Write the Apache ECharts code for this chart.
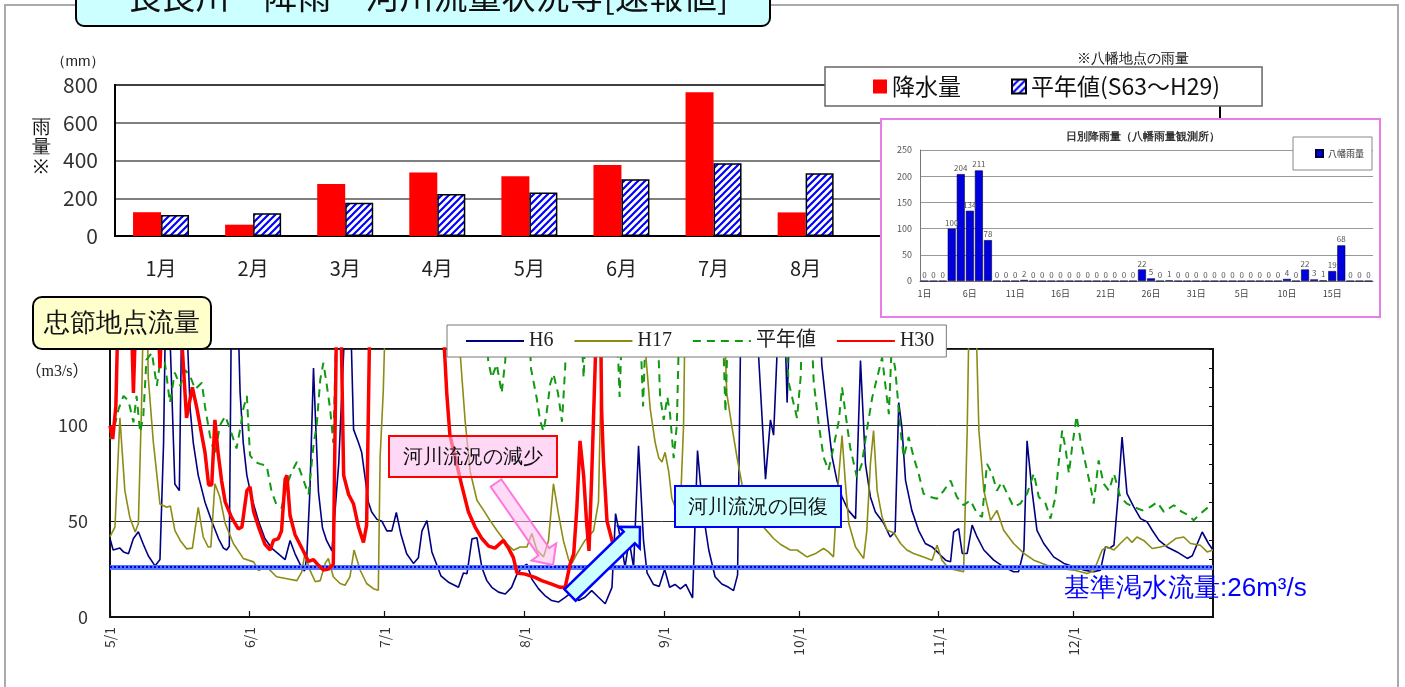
<!DOCTYPE html>
<html><head><meta charset="utf-8">
<script src="https://cdn.jsdelivr.net/npm/echarts@6/dist/echarts.min.js"></script>
<style>html,body{margin:0;padding:0;background:#fff;}#c{width:1405px;height:687px;}</style>
</head><body><div id="c"></div>
<script>
// ---------- top chart: monthly rainfall (mm) ----------
const months = ['1月','2月','3月','4月','5月','6月','7月','8月','9月','10月','11月','12月'];
const rainH30 = [126, 60, 276, 337, 316, 376, 761, 125, null, null, null, null];
const rainNormal = [111, 121, 176, 223, 230, 301, 385, 332, 280, 150, 100, 110];
const rainTicks = [0, 200, 400, 600, 800];

// ---------- inset: daily rainfall at 八幡 ----------
const insetDays = ['1日','2日','3日','4日','5日','6日','7日','8日','9日','10日','11日','12日','13日','14日','15日','16日','17日','18日','19日','20日','21日','22日','23日','24日','25日','26日','27日','28日','29日','30日','31日',
  '1日','2日','3日','4日','5日','6日','7日','8日','9日','10日','11日','12日','13日','14日','15日','16日','17日','18日','19日'];
const insetRain = [0,0,0,100,204,134,211,78,0,0,0,2,0,0,0,0,0,0,0,0,0,0,0,0,22,5,0,1,0,0,0,
  0,0,0,0,0,0,0,0,0,4,0,22,3,1,19,68,0,0,0];

// ---------- bottom chart: flow at 忠節 (m3/s), x = days since 5/1 ----------
const monthStartDays = [0, 31, 61, 92, 123, 153, 184, 214];
const monthStartLabels = ['5/1','6/1','7/1','8/1','9/1','10/1','11/1','12/1'];
const flowTicks = [0, 50, 100];
const baseFlow = 26;

const flowH6 = [[0,41],[0.7,35],[2.2,36],[3,34],[4.1,33],[5.2,41],[6.3,44.5],[7.4,38],[8.5,32],[10,26.7],[11.1,30],[11.9,91],[12.4,170],[13,170],[14.4,69.5],[15.4,66],[16,170],[16.8,170],[17.8,108.6],[18.5,91],[19.6,74],[21.1,60],[22.6,50],[24.1,41],[25.2,36],[25.9,35],[26.5,37],[27,170],[28.3,170],[28.9,117],[29.6,91],[30.4,74],[31.5,62],[33,50],[34.4,41],[35.9,36],[37.4,33],[38.9,30],[40,40],[41.1,33],[42.2,27.6],[43.2,24],[43.7,31],[44.4,65.5],[45.2,130],[45.7,100],[46.3,65.5],[47.2,46.5],[48.1,40],[49.3,34.5],[50.8,80],[52.5,170],[53.3,170],[54.1,98],[55.2,91],[55.9,86],[57.4,60],[58.1,55],[59.3,51],[60.4,50],[61.5,45],[62.6,45],[63.6,54.6],[64.6,43.4],[65.9,33],[67.4,28],[68.5,31],[69.3,45],[70.4,50.3],[71.5,34],[73.5,21.5],[75.3,18],[77.4,15.5],[78.5,23],[79.3,22.6],[80.4,40.8],[81.5,41.4],[82.6,25.9],[83.7,19],[84.8,15.5],[86.3,13],[87.8,12],[89.2,15.5],[90.4,22.4],[91.5,25.9],[92.6,27.6],[93.7,19.8],[95.2,14.7],[96.6,11.2],[98.1,8.6],[99.6,7.8],[101.1,10.3],[102.6,13],[104.1,8.6],[105.5,10.3],[107,13.8],[108.5,10.3],[110,6.9],[111.5,15.5],[112.3,54],[113.3,42],[114.4,26],[115.3,40],[116.3,26],[117.4,89.5],[118.5,40],[119.3,23],[120.7,17],[122,16],[123.2,25],[124.3,15.5],[125.5,17],[126.7,14.7],[127.9,17],[129.4,10],[130.5,87],[131.7,55],[133,35],[134.4,21],[135.9,17.2],[137.4,15.5],[138.5,13.8],[139.4,22],[140.2,170],[143.6,170],[144.1,135],[145.6,72],[146.7,103],[147.4,95],[148.1,134],[148.7,170],[149.7,170],[150.4,112],[151.2,170],[157.5,170],[158.1,132],[159.3,106],[160.4,83.5],[161.5,71],[162.6,62.7],[164,55.7],[165.6,51.4],[166.7,134],[167.8,80],[168.9,62.7],[170,54.8],[171.9,48.8],[173.3,41.8],[174.4,44.5],[175.2,112],[175.9,99],[176.7,71.4],[178.1,55.7],[179.6,45.3],[181.1,38.4],[182.6,36.6],[184.1,33.2],[185.6,29.7],[186.7,28.8],[187.4,44.4],[188.5,46.2],[189.3,33.2],[190.4,33.2],[191.5,48],[192.6,41.8],[194.1,35],[196.3,29.7],[198.5,26.2],[200.7,23.6],[201.8,23.6],[203,35],[203.7,92],[204.8,66],[205.9,45.3],[207.4,38.4],[209.6,31.4],[211.9,28],[214.1,26.2],[216.3,24.5],[218.5,23.6],[220,24.5],[221.1,36.6],[222,36],[223,37.5],[223.9,62.7],[224.8,94],[225.9,64.4],[227.4,57.5],[228.9,51.4],[230.4,49.6],[231.5,45.3],[233,40],[234.8,36.6],[237,34],[239.3,30.6],[240.4,32],[242.6,44.4],[244,38.4],[245,35]];

const flowH17 = [[0,42],[1.1,47],[2.2,104],[3.3,66],[4.4,52],[5.6,44.4],[6.3,48.8],[7,110],[7.5,170],[8.2,170],[8.5,125],[9.6,92],[11.1,59],[12.6,57.3],[13.4,58],[14.4,45.3],[15.6,40],[17,35.6],[18.3,36],[19.6,57.3],[20.7,41.8],[21.8,36.6],[22.4,36.6],[23.3,69.6],[24.4,62.7],[25.6,48.8],[27.4,38.4],[29.6,30.6],[31.9,28.8],[33,24.3],[34.8,26.2],[37,21],[39.3,20],[41.5,19],[42.6,23.6],[43.3,33.2],[44.4,24.5],[45.6,18.4],[46.7,19],[47.8,28],[48.5,30.6],[49.6,21],[51.1,17.5],[52.2,16.6],[53.3,21],[54.2,35],[55.6,24.3],[57,17.5],[58.5,14.8],[59.6,14],[60,83.5],[60.7,118],[61.3,170],[77.2,170],[77.8,137],[78.9,102],[80,76],[81.5,61],[83,55.7],[84.4,50.5],[85.9,45.3],[88.1,38.4],[89.6,34.9],[91.1,36.6],[92.6,36.6],[93.7,43.6],[94.8,35],[96.3,31.4],[97.4,40],[98.5,69.6],[99.6,54],[100.7,40],[101.9,29.7],[102.6,28],[103.7,33],[105.5,40],[107.4,45],[108.5,60],[109.5,170],[118.5,170],[118.9,140],[120,108.6],[121.1,91],[121.9,83],[122.6,81],[123.3,86],[124.1,76],[124.8,62],[125.9,55],[126.6,52],[127.4,100],[127.8,170],[136.2,170],[137,117],[138.1,100],[139.3,83],[140.4,69],[141.5,60],[143,53],[144.4,49],[145.9,45],[147.4,41],[148.9,38],[151.1,35],[152.6,35],[154.8,31.4],[156.6,33],[158.5,35.8],[159.6,34],[160.7,31.4],[161.5,62.7],[162.6,94.8],[163.3,71.4],[164.1,48.8],[165.6,36.6],[167.4,30.6],[168.1,45],[168.9,80],[169.6,97.4],[170.4,66],[171.5,52.2],[172.6,45.3],[174.1,44],[175.6,38.4],[177,35],[178.5,33.2],[180.7,31.4],[182.6,29.7],[183.7,37.5],[184.8,29.7],[186.3,25.4],[188.1,24.5],[189.6,23.6],[190.4,97],[190.9,170],[192.2,170],[193,97.4],[194.1,66],[195.6,50.5],[197,55.7],[198.5,45.3],[200.7,38.4],[203,33.2],[205.2,29.7],[208.1,27],[211.1,25.4],[214.1,24.5],[217,22.7],[218.5,24],[220.4,35],[221.5,36.6],[223,35],[224.4,38.4],[225.9,41.8],[227,39],[228.1,41.8],[229.6,40],[231.5,35.8],[233.3,36.6],[234.8,37.5],[236.7,41],[238.5,41.8],[240,38.4],[242.2,37.5],[243.7,34],[245,35]];

const flowNormal = [[0,93],[0.7,96.5],[1.9,108.6],[3,115.5],[4.1,113],[5.2,101.7],[5.9,115.5],[6.7,96.5],[7.4,105],[8.1,134.5],[9.3,138],[10.4,120.7],[11.1,132.8],[12.2,132.8],[13.3,112],[14.4,127.6],[15.6,120.7],[16.7,129],[17.8,125.9],[18.9,119],[20.4,122.4],[21.1,110],[22.2,94.8],[23.3,84.5],[24.4,100],[25.6,105],[26.7,98],[28.1,88],[28.9,98],[29.6,108.6],[30.4,115.5],[31.1,84.5],[32.2,81],[33.3,80],[34.8,79],[35.9,65.5],[37,58.6],[38.1,57],[39.3,69],[40.4,76],[41.5,81],[42.6,74],[44.1,64],[45.2,89.7],[45.9,100],[46.7,124],[47.4,132.8],[48.1,122],[48.9,108.6],[49.6,91],[50.5,170],[83.3,170],[84,134],[84.8,125],[85.9,132],[87,117],[87.8,134],[88.3,170],[92.8,170],[93.5,130],[94.8,114],[95.6,102],[96.3,97],[97,107],[97.8,122],[98.5,127],[99.5,117],[100.4,102],[101.1,130],[101.6,170],[104.3,170],[105.2,125],[106,170],[112.3,170],[113.2,115],[114,170],[117.5,170],[118.4,110],[119.3,170],[121.3,170],[122.2,115],[123,103],[123.8,115],[124.4,106],[125.2,83],[125.9,100],[126.6,170],[135.9,170],[136.7,107],[137.5,170],[149.9,170],[150.7,123],[152.6,104],[153.4,125],[154,170],[155.5,170],[156.3,123],[157.4,101],[158.5,83.5],[159.6,76.6],[160.7,88.7],[161.9,102.6],[162.6,120],[163.5,104],[164.4,88.7],[165.9,73],[167,80],[168.1,97.4],[169.3,114.6],[170.4,125],[171.5,135.6],[172.2,121.7],[173,106],[173.6,140],[174.4,130],[175.6,97.4],[176.3,83.5],[177.4,94],[178.5,83.5],[179.6,75],[180.7,64.4],[182.2,62.7],[183.7,61.8],[185.2,66],[186.7,71.3],[188.1,62.7],[189.6,58.4],[191.1,61],[192.6,54],[193.7,52.3],[194.8,80],[195.9,75],[197,66],[198.1,70.5],[199.3,64.4],[200.7,57.5],[202.2,59.2],[203.7,64.4],[205.2,75],[206.3,62.7],[207.8,59.2],[208.9,51.4],[210,62.7],[210.7,80],[211.5,97.4],[212.2,88.7],[213,75],[213.7,88.7],[214.7,105],[215.6,92],[216.7,80],[217.8,68],[218.5,59.2],[219.6,81.8],[220.7,69.6],[221.9,66],[223,75],[224.4,62.7],[225.9,59.2],[227.4,57.5],[229.3,55.7],[231.1,57.5],[232.6,60],[234.1,54.9],[236.3,58.4],[238.1,54.9],[239.6,53.2],[240.7,50.5],[242.2,54],[244,57.5],[245,56.6]];

const flowH30 = [[0,100],[0.6,93],[1.3,110],[1.9,170],[4.6,170],[5.2,117],[5.9,170],[10.5,170],[11.1,130],[11.7,170],[15.3,170],[17,104],[18.3,120],[19.3,109],[21.1,86],[21.9,69],[22.6,69],[23.3,103],[24,86],[24.8,71],[25.6,60],[27,52],[28.5,46],[29.3,47],[30.4,66],[31.1,68],[31.9,55],[33,47],[34.4,38],[35.6,35],[36.3,40],[37.4,41],[38.1,45],[38.9,72],[39.3,74],[40,53],[41.1,43],[42.6,36],[44.1,29],[45.2,30],[46.3,27],[47.4,24.5],[48.5,25],[49.6,27.6],[50.4,170],[51.2,170],[51.9,74],[53,64],[54.1,59],[55.2,47],[56.3,39],[57,48],[57.8,170],[73.6,170],[74.8,117],[75.5,95],[76.7,83],[78.1,69],[79.6,55],[81.1,47],[82.6,41],[84.1,37],[85.5,36],[87.4,40],[88.5,36],[89.6,31],[90.4,23],[92.2,22.4],[94.4,20.7],[95.9,19],[98.1,17.2],[100,15.5],[101.1,15.5],[102.2,27.6],[103,33],[103.7,57],[104.4,92],[105.2,74],[105.9,48],[106.4,34.5],[107,74],[107.8,134],[108.1,170],[108.9,170],[109.2,108],[109.6,82],[110.4,50],[111.5,40],[112.2,35]];

const SANS = '"Noto Sans CJK JP", "DejaVu Sans", sans-serif';
const SERIF = '"Liberation Serif", "Noto Sans CJK JP", serif';

function hatchPattern() {
  const c = document.createElement('canvas');
  c.width = 7; c.height = 7;
  const g = c.getContext('2d');
  g.fillStyle = '#ffffff'; g.fillRect(0, 0, 7, 7);
  g.strokeStyle = '#0000ff'; g.lineWidth = 2.2;
  g.beginPath();
  g.moveTo(-1, 8); g.lineTo(8, -1);
  g.moveTo(-1, 1); g.lineTo(1, -1);
  g.moveTo(6, 8); g.lineTo(8, 6);
  g.stroke();
  return { image: c, repeat: 'repeat' };
}

function arrowPts(x1, y1, x2, y2, shaft, head, headLen) {
  const dx = x2 - x1, dy = y2 - y1, L = Math.hypot(dx, dy);
  const ux = dx / L, uy = dy / L, px = -uy, py = ux;
  const bx = x2 - ux * headLen, by = y2 - uy * headLen;
  return [
    [x1 + px * shaft / 2, y1 + py * shaft / 2],
    [bx + px * shaft / 2, by + py * shaft / 2],
    [bx + px * head / 2, by + py * head / 2],
    [x2, y2],
    [bx - px * head / 2, by - py * head / 2],
    [bx - px * shaft / 2, by - py * shaft / 2],
    [x1 - px * shaft / 2, y1 - py * shaft / 2]
  ];
}

const chart = echarts.init(document.getElementById('c'), null, { renderer: 'canvas' });

const option = {
  animation: false,
  backgroundColor: '#ffffff',
  textStyle: { fontFamily: SANS },
  grid: [
    { left: 115, top: 85, right: 185, height: 151, show: true, borderColor: '#000', borderWidth: 2 },
    { left: 920, top: 150, width: 453, height: 131, show: false, z: 55 },
    { left: 110, top: 349, right: 192, bottom: 70, show: true, borderColor: '#111', borderWidth: 2 }
  ],
  legend: [
    {
      data: ['降水量', '平年値(S63～H29)'], left: 825, top: 67, orient: 'horizontal',
      icon: 'rect', itemWidth: 14, itemHeight: 14, itemGap: 50,
      padding: [8, 42, 8, 48], backgroundColor: '#fff', borderColor: '#666', borderWidth: 1.5,
      textStyle: { fontSize: 23, color: '#111', fontFamily: SANS }, z: 20, selectedMode: false
    },
    {
      data: ['H6', 'H17', '平年値', 'H30'], left: 447, top: 325,
      itemWidth: 58, itemHeight: 14, itemGap: 20,
      itemStyle: { opacity: 0 },
      padding: [6, 12, 6, 18], backgroundColor: '#fff', borderColor: '#777', borderWidth: 1,
      textStyle: { fontSize: 20, color: '#222', fontFamily: SERIF }, z: 20, selectedMode: false
    },
    {
      data: ['八幡雨量'], left: 1293, top: 137, icon: 'rect',
      itemWidth: 7, itemHeight: 7, padding: [12, 8, 12, 22],
      backgroundColor: '#fff', borderColor: '#888', borderWidth: 1,
      textStyle: { fontSize: 9, color: '#333' }, z: 70, selectedMode: false
    }
  ],
  xAxis: [
    {
      gridIndex: 0, type: 'category', data: months,
      axisLine: { lineStyle: { color: '#000', width: 2 } },
      axisTick: { inside: true, length: 6, lineStyle: { color: '#000', width: 1.2 } },
      axisLabel: { fontSize: 20, color: '#222', margin: 22 }
    },
    {
      gridIndex: 1, type: 'category', data: insetDays, z: 56,
      axisLine: { lineStyle: { color: '#777', width: 1 } },
      axisTick: { interval: 4, length: 3, lineStyle: { color: '#777' } },
      axisLabel: { interval: 4, fontSize: 9, color: '#444', margin: 8 }
    },
    {
      gridIndex: 2, type: 'value', min: 0, max: 245,
      axisLine: { lineStyle: { color: '#111', width: 2 } },
      axisTick: { customValues: monthStartDays, inside: true, length: 6, lineStyle: { color: '#111', width: 1.2 } },
      axisLabel: {
        customValues: monthStartDays, rotate: 90, fontSize: 14, color: '#333', margin: 10,
        formatter: function (v) { const i = monthStartDays.indexOf(v); return i >= 0 ? monthStartLabels[i] : ''; }
      },
      splitLine: { show: false }
    }
  ],
  yAxis: [
    {
      gridIndex: 0, type: 'value', min: rainTicks[0], max: rainTicks[rainTicks.length - 1], interval: rainTicks[1] - rainTicks[0],
      axisLine: { show: true, lineStyle: { color: '#000', width: 2 } },
      axisTick: { show: false },
      axisLabel: { fontSize: 21, color: '#333', margin: 17 },
      splitLine: { lineStyle: { color: '#555', width: 1.5 } }
    },
    {
      gridIndex: 1, type: 'value', min: 0, max: 250, interval: 50, z: 56,
      axisLine: { show: true, lineStyle: { color: '#777', width: 1 } },
      axisTick: { show: false },
      axisLabel: { fontSize: 9, color: '#555', margin: 8 },
      splitLine: { lineStyle: { color: '#999', width: 1 } }
    },
    {
      gridIndex: 2, type: 'value', min: 0, max: 140, interval: flowTicks[1] - flowTicks[0],
      axisLine: { show: true, lineStyle: { color: '#111', width: 2 } },
      axisTick: { show: true, inside: true, length: 5, lineStyle: { color: '#111' } },
      axisLabel: { fontSize: 18, color: '#333', margin: 22, showMaxLabel: false,
        formatter: function (v) { return flowTicks.indexOf(v) >= 0 ? String(v) : ''; } },
      splitLine: { lineStyle: { color: '#333', width: 1 } }
    },
    {
      gridIndex: 2, type: 'value', min: 0, max: 140, interval: 10,
      axisLine: { show: false },
      axisTick: { show: true, inside: true, length: 4, lineStyle: { color: '#111' } },
      axisLabel: { show: false },
      splitLine: { show: false }
    }
  ],
  series: [
    {
      name: '降水量', type: 'bar', xAxisIndex: 0, yAxisIndex: 0, data: rainH30,
      barWidth: 28, barGap: '0%', itemStyle: { color: '#ff0000' }
    },
    {
      name: '平年値(S63～H29)', type: 'bar', xAxisIndex: 0, yAxisIndex: 0, data: rainNormal,
      barWidth: 28, barGap: '0%',
      itemStyle: { color: hatchPattern(), borderColor: '#000', borderWidth: 1.5 }
    },
    {
      name: '八幡雨量', type: 'bar', xAxisIndex: 1, yAxisIndex: 1, data: insetRain, z: 60,
      barCategoryGap: '12%',
      itemStyle: { color: '#0000dd', borderColor: '#000044', borderWidth: 0.6 },
      label: { show: true, position: 'top', distance: 2, fontSize: 8, color: '#555' }
    },
    {
      name: 'H6', type: 'line', xAxisIndex: 2, yAxisIndex: 2, data: flowH6,
      symbol: 'none', z: 3, lineStyle: { color: '#000080', width: 1.6 }, itemStyle: { color: '#000080' }
    },
    {
      name: 'H17', type: 'line', xAxisIndex: 2, yAxisIndex: 2, data: flowH17,
      symbol: 'none', z: 3, lineStyle: { color: '#8c8c14', width: 1.6 }, itemStyle: { color: '#8c8c14' }
    },
    {
      name: '平年値', type: 'line', xAxisIndex: 2, yAxisIndex: 2, data: flowNormal,
      symbol: 'none', z: 4, lineStyle: { color: '#119911', width: 2, type: [8, 6] }, itemStyle: { color: '#119911' }
    },
    {
      name: 'H30', type: 'line', xAxisIndex: 2, yAxisIndex: 2, data: flowH30,
      symbol: 'none', z: 5, lineStyle: { color: '#ff0000', width: 3.5 }, itemStyle: { color: '#ff0000' }
    },
    {
      name: '基準渇水流量', type: 'line', xAxisIndex: 2, yAxisIndex: 2, data: [], z: 8,
      markLine: {
        silent: true, symbol: 'none', label: { show: false }, animation: false,
        data: [
          { yAxis: baseFlow, lineStyle: { color: '#5577ff', width: 5, type: 'solid' } },
          { yAxis: baseFlow, lineStyle: { color: '#0000dd', width: 2, type: [2, 2] } }
        ]
      }
    }
  ],
  graphic: [
    { type: 'rect', z: 1, shape: { x: 5, y: 5, width: 1393, height: 720 },
      style: { fill: 'none', stroke: '#aaaaaa', lineWidth: 2 } },
    { type: 'rect', z: 90, shape: { x: 76, y: -30, width: 694, height: 56, r: 8 },
      style: { fill: '#ccffff', stroke: '#000', lineWidth: 2 } },
    { type: 'text', z: 91, x: 428, y: -4,
      style: { text: '長良川　降雨・河川流量状況等[速報値]', fontSize: 34, fontFamily: SANS, fill: '#111', align: 'center', verticalAlign: 'middle' } },
    { type: 'text', z: 10, x: 78, y: 62,
      style: { text: '（mm）', fontSize: 15, fill: '#222', align: 'center', verticalAlign: 'middle' } },
    { type: 'text', z: 10, x: 41, y: 148,
      style: { text: '雨\n量\n※', fontSize: 19, lineHeight: 20, fill: '#111', align: 'center', verticalAlign: 'middle' } },
    { type: 'text', z: 10, x: 1133, y: 59,
      style: { text: '※八幡地点の雨量', fontSize: 14, fill: '#111', align: 'center', verticalAlign: 'middle' } },
    { type: 'rect', z: 50, shape: { x: 881, y: 119, width: 499, height: 198 },
      style: { fill: '#fff', stroke: '#e77ee7', lineWidth: 2 } },
    { type: 'text', z: 61, x: 1143, y: 137,
      style: { text: '日別降雨量（八幡雨量観測所）', fontSize: 11, fontWeight: 'bold', fill: '#333', align: 'center', verticalAlign: 'middle' } },
    { type: 'rect', z: 50, shape: { x: 33, y: 297, width: 178, height: 52, r: 9 },
      style: { fill: '#ffffcc', stroke: '#000', lineWidth: 2 } },
    { type: 'text', z: 51, x: 122, y: 324,
      style: { text: '忠節地点流量', fontSize: 26, fill: '#111', align: 'center', verticalAlign: 'middle' } },
    { type: 'text', z: 10, x: 57, y: 372,
      style: { text: '（m3/s）', fontSize: 16, fontFamily: SERIF, fill: '#222', align: 'center', verticalAlign: 'middle' } },
    { type: 'rect', z: 50, shape: { x: 389, y: 436, width: 168, height: 41 },
      style: { fill: 'rgba(255,190,240,0.6)', stroke: '#ff0000', lineWidth: 2 } },
    { type: 'text', z: 51, x: 473, y: 457,
      style: { text: '河川流況の減少', fontSize: 20, fill: '#111', align: 'center', verticalAlign: 'middle' } },
    { type: 'polygon', z: 50, shape: { points: arrowPts(496, 483, 553, 565, 13, 30, 16) },
      style: { fill: 'rgba(255,190,240,0.55)', stroke: '#ff77dd', lineWidth: 2 } },
    { type: 'polygon', z: 50, shape: { points: arrowPts(570, 595, 640, 527, 16, 30, 15) },
      style: { fill: '#ccffff', stroke: '#0000ff', lineWidth: 2.5 } },
    { type: 'rect', z: 50, shape: { x: 675, y: 486, width: 166, height: 41 },
      style: { fill: '#ccffff', stroke: '#0000ff', lineWidth: 2 } },
    { type: 'text', z: 51, x: 758, y: 507,
      style: { text: '河川流況の回復', fontSize: 20, fill: '#111', align: 'center', verticalAlign: 'middle' } },
    { type: 'text', z: 51, x: 1064, y: 589,
      style: { text: '基準渇水流量:26m³/s', fontSize: 26, fill: '#0000ff', align: 'left', verticalAlign: 'middle' } }
  ]
};
chart.setOption(option);
</script>
</body></html>
